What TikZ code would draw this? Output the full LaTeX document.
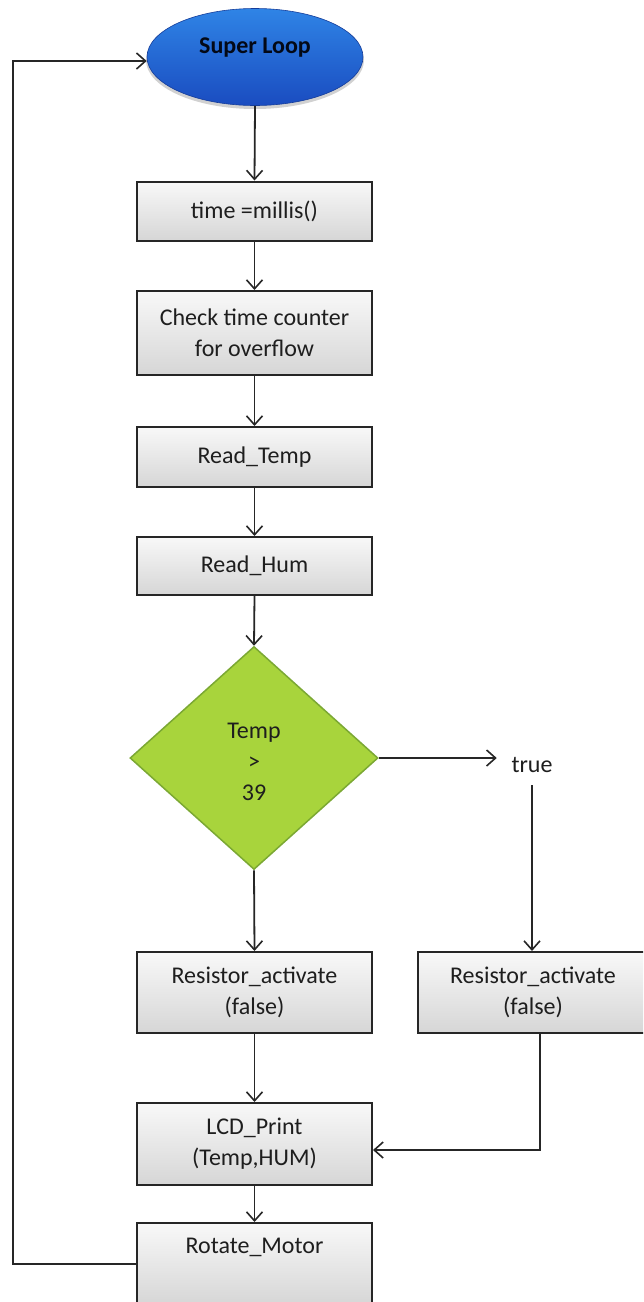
\documentclass[tikz,border=0pt]{standalone}
\usepackage{fontspec}
\setmainfont{Carlito}
\usetikzlibrary{shapes.geometric,arrows.meta}
\definecolor{txt}{HTML}{1E1E1E}
\definecolor{edge}{HTML}{262626}
\definecolor{boxtop}{HTML}{F8F8F8}
\definecolor{boxbot}{HTML}{D6D6D6}
\definecolor{blueA}{HTML}{2F84E6}
\definecolor{blueB}{HTML}{1A4CC0}
\definecolor{greenF}{HTML}{A8D43C}
\definecolor{greenE}{HTML}{7BA833}
\tikzset{
  procbox/.style={rectangle, draw=edge, line width=2pt, top color=boxtop, bottom color=boxbot,
    minimum width=235, minimum height=#1, inner sep=0pt, align=center, text=txt,
    font=\fontsize{24}{31}\selectfont},
  procbox/.default=60,
  lbl/.style={text=txt, font=\fontsize{24}{31}\selectfont, align=center, inner sep=0pt},
  conn/.style={draw=black!85, line width=1.8pt, -{Straight Barb[length=9pt,width=16pt,line width=1.6pt]}},
  plain/.style={draw=black!85, line width=1.8pt}
}
\begin{document}
\begin{tikzpicture}[x=1pt,y=-1pt]
\useasboundingbox (0,0) rectangle (643,1302);
\clip (0,0) rectangle (643,1302);
\fill[white] (0,0) rectangle (643,1302);
% start ellipse
\fill[black!18] (255,60) ellipse [x radius=109, y radius=49];
\node[ellipse, top color=blueA, bottom color=blueB, draw=blueB!80!black, line width=0.6pt,
  minimum width=216, minimum height=97, inner sep=0pt] (loop) at (255,57) {};
\node[lbl, text=blueB!12!black, font=\fontsize{24}{31}\selectfont\bfseries, anchor=center] (looptxt) at (255,48) {Super Loop};
% boxes
\node[procbox=59] (b1) at (254.5,211) {time =millis()};
\node[procbox=84] (b2) at (254.5,333) {Check time counter\\for overflow};
\node[procbox=60] (b3) at (254.5,457) {Read\_Temp};
\node[procbox=58] (b4) at (254.5,566) {Read\_Hum};
% decision
\node[diamond, fill=greenF, draw=greenE, line width=1.5pt, minimum width=248, minimum height=223,
  inner sep=0pt, aspect=1.11] (dec) at (254,758) {};
\node[lbl] (dectxt) at (254,762) {Temp\\>\\39};
\node[lbl] (true) at (532,765) {true};
\node[procbox=81] (b5) at (254.5,992.5) {Resistor\_activate\\(false)};
\node[procbox=81, minimum width=230] (b6) at (533,992.5) {Resistor\_activate\\(false)};
\node[procbox=82] (b7) at (254.5,1144) {LCD\_Print\\(Temp,HUM)};
\node[procbox=82] (b8) at (254.5,1264) {};
\node[lbl] (b8txt) at (254.5,1247) {Rotate\_Motor};
% connectors
\draw[conn] (loop.south) -- (b1.north);
\draw[conn] (b1.south) -- (b2.north);
\draw[conn] (b2.south) -- (b3.north);
\draw[conn] (b3.south) -- (b4.north);
\draw[conn] (b4.south) -- (dec.north);
\draw[conn] (dec.east) -- ++(118,0) coordinate (trueend);
\draw[conn] (dec.south) -- (b5.north);
\draw[conn] (532,785) coordinate (truebot) -- (truebot |- b6.north);
\draw[conn] (b5.south) -- (b7.north);
\draw[conn] (540,1033.5) coordinate (b6out) -- (540,1150) -- (b7.east |- 0,1150);
\draw[conn] (b7.south) -- (b8.north);
\draw[conn] (b8.west) -- (13,1264) -- (13,61) -- (loop.west |- 0,61);
\end{tikzpicture}
\end{document}
